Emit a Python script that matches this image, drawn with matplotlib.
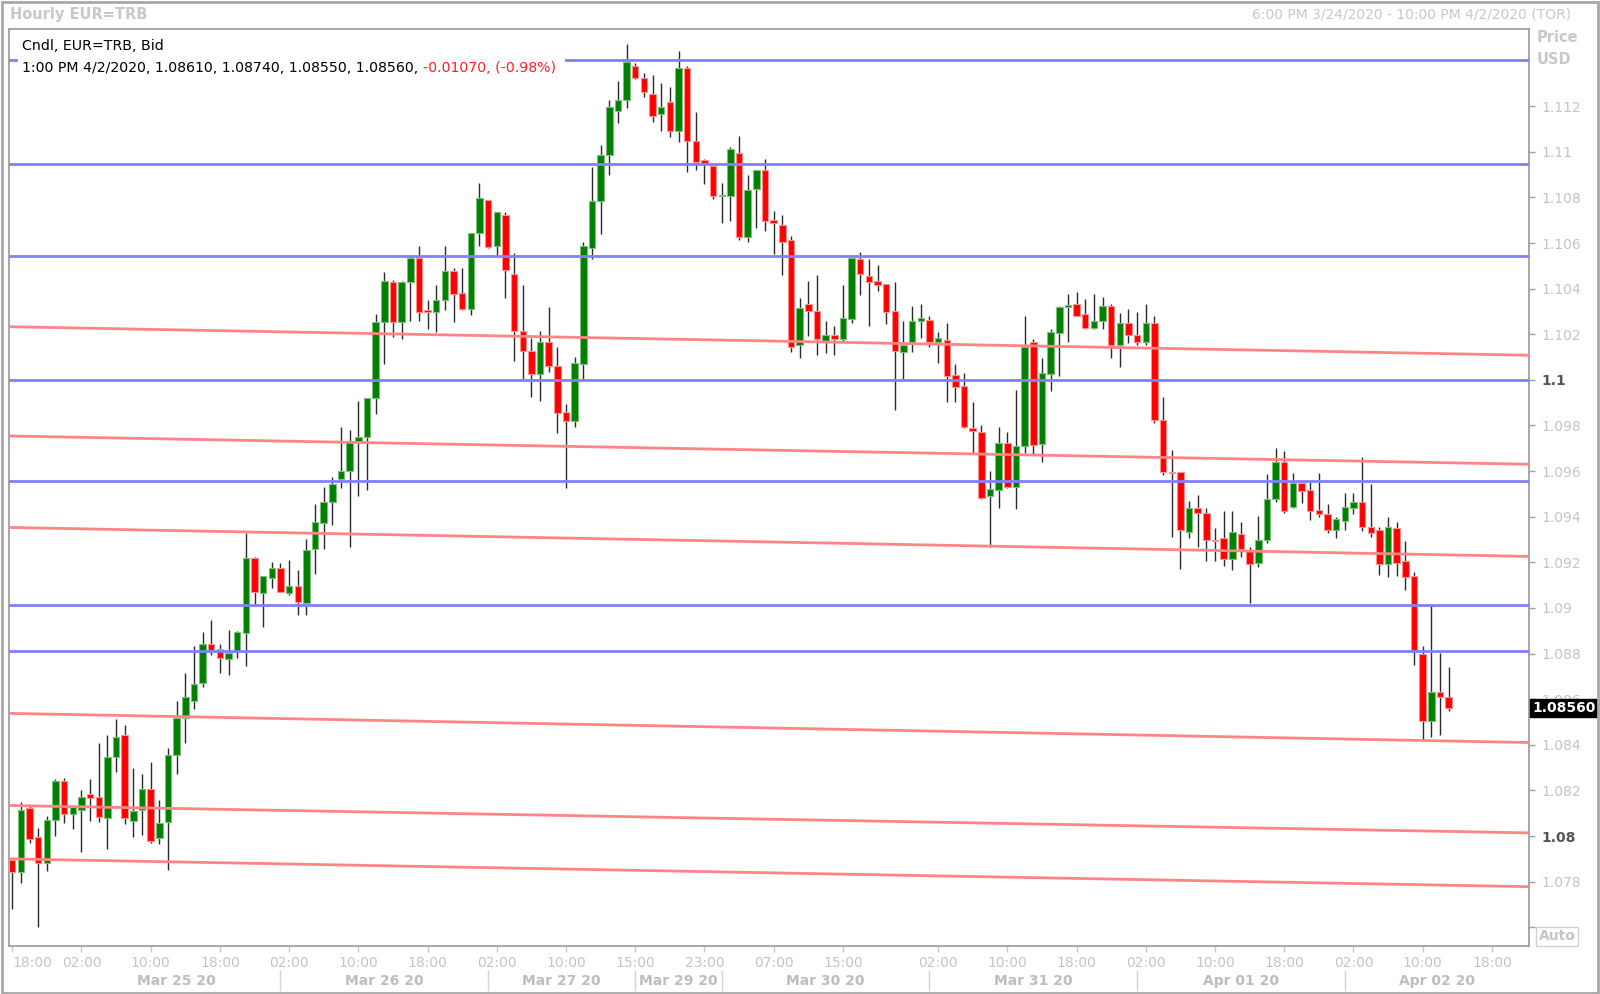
import numpy as np
import matplotlib.pyplot as plt
from matplotlib.patches import Rectangle

# hourly candles, bar 0 = 18:00 Mar 24, bar 166 = 13:00 Apr 2
opens = [1.07894, 1.07843, 1.08122, 1.07997, 1.07881, 1.08070, 1.08240, 1.08098, 1.08115, 1.08186,
         1.08171, 1.08079, 1.08347, 1.08442, 1.08068, 1.08115, 1.08208, 1.07993, 1.08062, 1.08356,
         1.08519, 1.08592, 1.08672, 1.08844, 1.08818, 1.08777, 1.08810, 1.08891, 1.09218, 1.09067,
         1.09132, 1.09175, 1.09067, 1.09097, 1.09020, 1.09259, 1.09372, 1.09463, 1.09567, 1.09599,
         1.09729, 1.09750, 1.09920, 1.10252, 1.10430, 1.10252, 1.10427, 1.10536, 1.10305, 1.10297,
         1.10349, 1.10476, 1.10382, 1.10310, 1.10643, 1.10789, 1.10589, 1.10724, 1.10464, 1.10213,
         1.10127, 1.10024, 1.10164, 1.10062, 1.09859, 1.09818, 1.10070, 1.10576, 1.10784, 1.10987,
         1.11177, 1.11225, 1.11374, 1.11325, 1.11252, 1.11166, 1.11220, 1.11092, 1.11366, 1.11048,
         1.10964, 1.10938, 1.10804, 1.10808, 1.10994, 1.10625, 1.10837, 1.10921, 1.10701, 1.10679,
         1.10614, 1.10151, 1.10332, 1.10302, 1.10171, 1.10197, 1.10180, 1.10267, 1.10530, 1.10457,
         1.10434, 1.10419, 1.10300, 1.10124, 1.10164, 1.10257, 1.10263, 1.10164, 1.10175, 1.10022,
         1.09971, 1.09791, 1.09771, 1.09489, 1.09518, 1.09722, 1.09532, 1.09708, 1.10164, 1.09718,
         1.10026, 1.10205, 1.10321, 1.10332, 1.10288, 1.10226, 1.10256, 1.10324, 1.10153, 1.10251,
         1.10197, 1.10168, 1.10251, 1.09825, 1.09595, 1.09594, 1.09335, 1.09437, 1.09415, 1.09298,
         1.09305, 1.09213, 1.09324, 1.09251, 1.09196, 1.09298, 1.09476, 1.09641, 1.09441, 1.09549,
         1.09517, 1.09429, 1.09412, 1.09342, 1.09383, 1.09437, 1.09466, 1.09356, 1.09342, 1.09193,
         1.09349, 1.09207, 1.09142, 1.08798, 1.08506, 1.08633, 1.08610]
highs = [1.07900, 1.08148, 1.08130, 1.08034, 1.08087, 1.08249, 1.08253, 1.08133, 1.08201, 1.08251,
         1.08410, 1.08442, 1.08513, 1.08489, 1.08298, 1.08272, 1.08324, 1.08158, 1.08384, 1.08592,
         1.08715, 1.08835, 1.08893, 1.08947, 1.08844, 1.08904, 1.08900, 1.09330, 1.09222, 1.09140,
         1.09201, 1.09196, 1.09211, 1.09166, 1.09304, 1.09456, 1.09531, 1.09575, 1.09794, 1.09781,
         1.09907, 1.09920, 1.10289, 1.10471, 1.10440, 1.10435, 1.10541, 1.10586, 1.10349, 1.10414,
         1.10586, 1.10489, 1.10489, 1.10643, 1.10865, 1.10789, 1.10735, 1.10735, 1.10557, 1.10414,
         1.10183, 1.10216, 1.10321, 1.10146, 1.09896, 1.10099, 1.10606, 1.10934, 1.11028, 1.11226,
         1.11312, 1.11473, 1.11388, 1.11344, 1.11337, 1.11301, 1.11286, 1.11442, 1.11378, 1.11173,
         1.10969, 1.10938, 1.10862, 1.11023, 1.11067, 1.10899, 1.10921, 1.10969, 1.10741, 1.10723,
         1.10631, 1.10358, 1.10434, 1.10460, 1.10259, 1.10238, 1.10414, 1.10533, 1.10560, 1.10530,
         1.10504, 1.10419, 1.10431, 1.10256, 1.10324, 1.10332, 1.10281, 1.10212, 1.10251, 1.10070,
         1.10029, 1.09901, 1.09803, 1.09601, 1.09795, 1.09771, 1.09956, 1.10281, 1.10178, 1.10098,
         1.10224, 1.10324, 1.10376, 1.10387, 1.10355, 1.10376, 1.10365, 1.10332, 1.10292, 1.10310,
         1.10297, 1.10332, 1.10281, 1.09927, 1.09693, 1.09594, 1.09467, 1.09496, 1.09437, 1.09350,
         1.09425, 1.09425, 1.09378, 1.09266, 1.09403, 1.09587, 1.09700, 1.09690, 1.09593, 1.09554,
         1.09554, 1.09593, 1.09454, 1.09400, 1.09505, 1.09505, 1.09663, 1.09543, 1.09356, 1.09400,
         1.09378, 1.09295, 1.09159, 1.08835, 1.09013, 1.08801, 1.08740]
lows = [1.07679, 1.07793, 1.07971, 1.07600, 1.07847, 1.08001, 1.08057, 1.08030, 1.07928, 1.08068,
        1.08062, 1.07944, 1.08281, 1.08051, 1.07997, 1.08004, 1.07969, 1.07965, 1.07853, 1.08272,
        1.08406, 1.08556, 1.08653, 1.08792, 1.08713, 1.08706, 1.08782, 1.08745, 1.09007, 1.08915,
        1.09089, 1.09072, 1.09059, 1.08971, 1.08971, 1.09151, 1.09258, 1.09364, 1.09526, 1.09266,
        1.09489, 1.09518, 1.09851, 1.10070, 1.10187, 1.10179, 1.10260, 1.10257, 1.10224, 1.10208,
        1.10305, 1.10252, 1.10305, 1.10284, 1.10586, 1.10576, 1.10549, 1.10359, 1.10083, 1.10005,
        1.09924, 1.09907, 1.10034, 1.09765, 1.09526, 1.09794, 1.10005, 1.10528, 1.10638, 1.10898,
        1.11125, 1.11194, 1.11318, 1.11238, 1.11132, 1.11089, 1.11064, 1.11045, 1.10913, 1.10921,
        1.10858, 1.10792, 1.10687, 1.10698, 1.10614, 1.10606, 1.10665, 1.10653, 1.10551, 1.10460,
        1.10124, 1.10098, 1.10194, 1.10110, 1.10117, 1.10107, 1.10171, 1.10248, 1.10370, 1.10238,
        1.10390, 1.10244, 1.09868, 1.10005, 1.10120, 1.10183, 1.10146, 1.10076, 1.09901, 1.09905,
        1.09788, 1.09679, 1.09477, 1.09269, 1.09437, 1.09525, 1.09433, 1.09679, 1.09676, 1.09642,
        1.09953, 1.10018, 1.10168, 1.10278, 1.10222, 1.10222, 1.10222, 1.10094, 1.10058, 1.10161,
        1.10153, 1.10153, 1.09813, 1.09584, 1.09313, 1.09170, 1.09306, 1.09269, 1.09207, 1.09205,
        1.09184, 1.09166, 1.09222, 1.09023, 1.09181, 1.09283, 1.09466, 1.09415, 1.09437, 1.09459,
        1.09386, 1.09400, 1.09327, 1.09305, 1.09342, 1.09412, 1.09337, 1.09313, 1.09144, 1.09137,
        1.09142, 1.09079, 1.08750, 1.08421, 1.08433, 1.08443, 1.08550]
closes = [1.07843, 1.08115, 1.07987, 1.07881, 1.08070, 1.08240, 1.08098, 1.08126, 1.08171, 1.08169,
          1.08083, 1.08347, 1.08433, 1.08079, 1.08111, 1.08208, 1.07980, 1.08057, 1.08356, 1.08519,
          1.08608, 1.08668, 1.08844, 1.08814, 1.08782, 1.08803, 1.08895, 1.09218, 1.09072, 1.09140,
          1.09175, 1.09072, 1.09097, 1.09024, 1.09252, 1.09377, 1.09466, 1.09545, 1.09599, 1.09729,
          1.09750, 1.09920, 1.10252, 1.10435, 1.10252, 1.10427, 1.10536, 1.10297, 1.10297, 1.10349,
          1.10476, 1.10378, 1.10310, 1.10643, 1.10796, 1.10584, 1.10735, 1.10481, 1.10213, 1.10127,
          1.10024, 1.10164, 1.10062, 1.09855, 1.09818, 1.10073, 1.10589, 1.10784, 1.10987, 1.11198,
          1.11226, 1.11395, 1.11325, 1.11261, 1.11159, 1.11195, 1.11092, 1.11366, 1.11048, 1.10957,
          1.10950, 1.10804, 1.10811, 1.11011, 1.10625, 1.10833, 1.10921, 1.10698, 1.10687, 1.10606,
          1.10146, 1.10314, 1.10300, 1.10180, 1.10197, 1.10180, 1.10270, 1.10533, 1.10463, 1.10431,
          1.10414, 1.10297, 1.10127, 1.10155, 1.10260, 1.10270, 1.10164, 1.10183, 1.10018, 1.09968,
          1.09795, 1.09774, 1.09484, 1.09522, 1.09725, 1.09532, 1.09711, 1.10146, 1.09715, 1.10029,
          1.10212, 1.10321, 1.10330, 1.10282, 1.10226, 1.10260, 1.10324, 1.10153, 1.10251, 1.10197,
          1.10168, 1.10251, 1.09822, 1.09594, 1.09591, 1.09340, 1.09437, 1.09415, 1.09298, 1.09292,
          1.09213, 1.09332, 1.09257, 1.09193, 1.09298, 1.09478, 1.09641, 1.09426, 1.09549, 1.09514,
          1.09426, 1.09410, 1.09342, 1.09390, 1.09444, 1.09466, 1.09353, 1.09330, 1.09193, 1.09356,
          1.09196, 1.09134, 1.08813, 1.08506, 1.08630, 1.08611, 1.08560]

time_ticks = [0, 8, 16, 24, 32, 40, 48, 56, 64, 72, 80, 88, 96, 107, 115, 123, 131, 139, 147, 155, 163, 171]
time_labels = ['18:00', '02:00', '10:00', '18:00', '02:00', '10:00', '18:00', '02:00', '10:00', '15:00',
               '23:00', '07:00', '15:00', '02:00', '10:00', '18:00', '02:00', '10:00', '18:00', '02:00',
               '10:00', '18:00']
day_starts = [7, 31, 55, 72, 82, 106, 130, 154]
day_labels = ['Mar 25 20', 'Mar 26 20', 'Mar 27 20', 'Mar 29 20', 'Mar 30 20', 'Mar 31 20',
              'Apr 01 20', 'Apr 02 20']

blue_levels = [1.11401, 1.10945, 1.10542, 1.10000, 1.09558, 1.09012, 1.08811]
red_start = [1.10233, 1.09754, 1.09353, 1.08538, 1.08134, 1.07900]
red_end = [1.10108, 1.09630, 1.09226, 1.08410, 1.08014, 1.07778]

last_price = 1.08560

W, H = 1600, 994
GREY = '#c4c4c4'


def main():
    fig = plt.figure(figsize=(16, 9.94), dpi=100)
    fig.patch.set_facecolor('white')
    ax = fig.add_axes([9.2 / W, 1 - 946 / H, (1528.6 - 9.2) / W, (946 - 28.6) / H])
    x0, x1 = -0.35, 175.24
    ax.set_xlim(x0, x1)
    ax.set_ylim(1.07518, 1.11540)

    o = np.array(opens)
    h = np.array(highs)
    l = np.array(lows)
    c = np.array(closes)
    x = np.arange(len(o))
    up = c >= o

    ax.vlines(x, l, h, color='#2a2a2a', lw=1, zorder=2)
    body_bottom = np.minimum(o, c)
    body_h = np.maximum(np.abs(c - o), 0.00007)
    ax.bar(x, body_h, 0.75, bottom=body_bottom,
           color=np.where(up, '#008000', '#ff0000'),
           edgecolor=np.where(up, '#7ac07a', '#ff9090'), linewidth=0.8, zorder=3)

    for lv in blue_levels:
        ax.axhline(lv, color='#8080ff', lw=2, zorder=4)
    for a, b in zip(red_start, red_end):
        ax.plot([x0, x1], [a, b], color='#ff8585', lw=2, zorder=4)

    # frame
    for s in ax.spines.values():
        s.set_color('#a0a0a0')
        s.set_linewidth(1.3)

    # price axis on the right
    ax.yaxis.tick_right()
    yt = np.round(np.arange(1.076, 1.1121, 0.002), 3)
    ax.set_yticks(yt)
    ylabs = []
    for v in yt:
        s = ('%.3f' % v).rstrip('0')
        ylabs.append('' if v < 1.077 else s)
    ax.set_yticklabels(ylabs)
    ax.tick_params(axis='y', length=4, width=1, color='#a0a0a0', pad=5,
                   labelsize=10, labelcolor=GREY)
    for t, v in zip(ax.get_yticklabels(), yt):
        if abs(v - 1.1) < 1e-6 or abs(v - 1.08) < 1e-6:
            t.set_fontweight('bold')
            t.set_color('#555555')

    # time axis
    ax.set_xticks(time_ticks)
    ax.set_xticklabels(time_labels)
    ax.tick_params(axis='x', length=4, width=1, color='#c8c8c8', pad=3,
                   labelsize=10, labelcolor=GREY)
    ax.get_xticklabels()[0].set_ha('left')

    trans = ax.get_xaxis_transform()
    bounds = day_starts + [x1]
    for i, lab in enumerate(day_labels):
        mid = (bounds[i] + bounds[i + 1]) / 2
        ax.text(mid, -0.0382, lab, transform=trans, ha='center', va='center',
                fontsize=10, fontweight='bold', color='#bdbdbd', clip_on=False)
    for b in day_starts[1:]:
        ax.plot([b, b], [-0.027, -0.048], transform=trans, color='#d4d4d4', lw=1,
                clip_on=False)

    # last price marker
    ax.text(1.0025, last_price, '%.5f' % last_price, transform=ax.get_yaxis_transform(),
            ha='left', va='center', fontsize=10, fontweight='bold', color='white',
            bbox=dict(boxstyle='square,pad=0.15', facecolor='black', edgecolor='black'),
            clip_on=False, zorder=10)

    # legend box over the top line
    fig.add_artist(Rectangle((18 / W, 1 - 80 / H), (565 - 18) / W, 44 / H,
                             transform=fig.transFigure, facecolor='white',
                             edgecolor='none', zorder=5))
    fig.text(22.5 / W, 1 - 46.5 / H, 'Cndl, EUR=TRB, Bid', fontsize=10.2, color='black',
             va='center', ha='left', zorder=6)
    t1 = fig.text(22.5 / W, 1 - 68 / H,
                  '1:00 PM 4/2/2020, 1.08610, 1.08740, 1.08550, 1.08560, ',
                  fontsize=10.2, color='black', va='center', ha='left', zorder=6)
    fig.canvas.draw()
    bb = t1.get_window_extent()
    fig.text(bb.x1 / W, 1 - 68 / H, '-0.01070, (-0.98%)', fontsize=10.2,
             color='#ff2020', va='center', ha='left', zorder=6)

    # header texts
    fig.text(10 / W, 1 - 15 / H, 'Hourly EUR=TRB', fontsize=10.5, fontweight='bold',
             color='#c8c8c8', va='center', ha='left')
    fig.text(1571 / W, 1 - 15 / H, '6:00 PM 3/24/2020 - 10:00 PM 4/2/2020 (TOR)',
             fontsize=10, color='#c8c8c8', va='center', ha='right')
    fig.text(1537 / W, 1 - 38 / H, 'Price', fontsize=10.5, fontweight='bold',
             color='#c8c8c8', va='center', ha='left')
    fig.text(1537 / W, 1 - 60 / H, 'USD', fontsize=10.5, fontweight='bold',
             color='#c8c8c8', va='center', ha='left')
    fig.text(1557 / W, 1 - 936.5 / H, 'Auto', fontsize=10, fontweight='bold',
             color='#c4c4c4', va='center', ha='center',
             bbox=dict(boxstyle='square,pad=0.15', facecolor='white', edgecolor='#d0d0d0'))

    # outer border
    fig.add_artist(Rectangle((0.001, 0.001), 0.998, 0.997, transform=fig.transFigure,
                             fill=False, edgecolor='#a8a8a8', lw=2, zorder=7))

    fig.savefig('out.png', dpi=100)


if __name__ == '__main__':
    main()
